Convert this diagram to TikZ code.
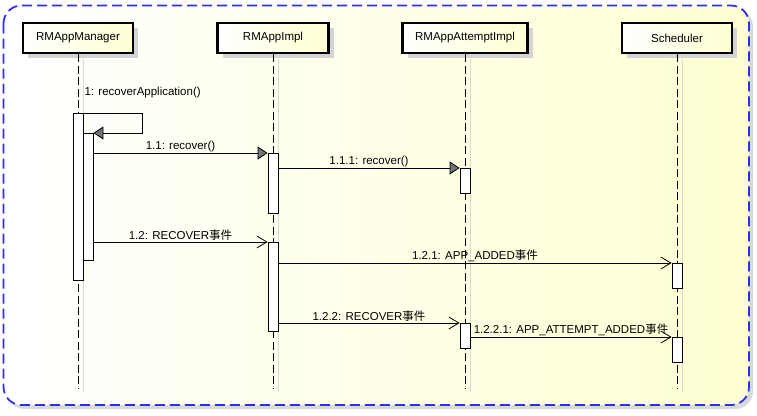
\documentclass[tikz,border=0pt]{standalone}
\usepackage{fontspec}
\setmainfont{Liberation Sans}
\newfontfamily\cjk{Noto Sans CJK SC}
\usetikzlibrary{arrows.meta,positioning,calc,shadows}
\definecolor{paleyellow}{RGB}{255,255,210}
\definecolor{frameblue}{RGB}{45,45,255}

\begin{document}
\begin{tikzpicture}[x=1pt,y=-1pt,
    font=\fontsize{11.5}{13}\selectfont,
    lifehead/.style={draw,line width=2.2pt,minimum height=30pt,inner sep=2pt,left color=white,right color=paleyellow,
        drop shadow={shadow xshift=5pt,shadow yshift=-5pt,fill=black!17,opacity=1}},
    lifeline/.style={dash pattern=on 8pt off 3.5pt,line width=0.8pt},
    lifeshade/.style={black!15,line width=0.8pt},
    actbar/.style={draw,fill=white,line width=0.8pt,minimum width=10pt,inner sep=0pt,anchor=north},
    callarrow/.style={-{Triangle[length=10pt,width=13pt,fill=black!55]},line width=0.8pt},
    sigarrow/.style={-{Straight Barb[length=10pt,width=12pt]},line width=0.8pt},
    msglabel/.style={above,inner sep=0.8pt}
]
\useasboundingbox (0,0) rectangle (757,415);

% frame
\fill[black!15,rounded corners=18pt] (7,9) rectangle (753,409);
\shade[left color=white,right color=paleyellow,rounded corners=18pt] (3.5,5.5) rectangle (749,405);
\draw[frameblue,line width=1.8pt,dash pattern=on 10pt off 5pt,rounded corners=18pt] (3.5,5.5) rectangle (749,405);

% lifeline heads
\node[lifehead,minimum width=110pt] (mgr) at (78,38) {RMAppManager};
\node[lifehead,minimum width=111pt] (impl) at (273,38) {RMAppImpl};
\node[lifehead,minimum width=125pt] (att) at (465,38) {RMAppAttemptImpl};
\node[lifehead,minimum width=110pt] (sch) at (677,38) {Scheduler};

\foreach \n in {mgr,impl,att,sch} {
    \draw[lifeshade] ($(\n.south)+(5,5)$) -- ($(\n.south |- 0,392)+(5,0)$);
    \draw[lifeline] (\n.south) -- (\n.south |- 0,388);
}

% activations
\node[actbar,minimum height=167pt] (mgrOut) at (mgr.south |- 0,113) {};
\node[actbar,minimum height=127pt,xshift=10pt] (mgrIn) at (mgr.south |- 0,133) {};
\node[actbar,minimum height=60pt] (implA) at (impl.south |- 0,153) {};
\node[actbar,minimum height=89pt] (implB) at (impl.south |- 0,242) {};
\node[actbar,minimum height=25pt] (attA) at (att.south |- 0,168) {};
\node[actbar,minimum height=25pt] (attB) at (att.south |- 0,323) {};
\node[actbar,minimum height=25pt] (schA) at (sch.south |- 0,263) {};
\node[actbar,minimum height=25pt] (schB) at (sch.south |- 0,337) {};

% messages
\node[anchor=west,inner sep=1pt] (selflbl) at ([yshift=20pt]mgrOut.north east) {1: recoverApplication()};
\draw[callarrow] (mgrOut.north east) -- ++(59,0) |- (mgrIn.north east);
\draw[callarrow] (mgrIn.east |- implA.north) -- node[msglabel] {1.1: recover()} (implA.north west);
\draw[callarrow] (implA.east |- attA.north) -- node[msglabel] {1.1.1: recover()} (attA.north west);
\draw[sigarrow] (mgrIn.east |- implB.north) -- node[msglabel] {1.2: RECOVER{\cjk 事件}} (implB.north west);
\draw[sigarrow] (implB.east |- schA.north) -- node[msglabel] {1.2.1: APP\_ADDED{\cjk 事件}} (schA.north west);
\draw[sigarrow] (implB.east |- attB.north) -- node[msglabel] {1.2.2: RECOVER{\cjk 事件}} (attB.north west);
\draw[sigarrow] (attB.east |- schB.north) -- node[msglabel] {1.2.2.1: APP\_ATTEMPT\_ADDED{\cjk 事件}} (schB.north west);
\end{tikzpicture}
\end{document}
